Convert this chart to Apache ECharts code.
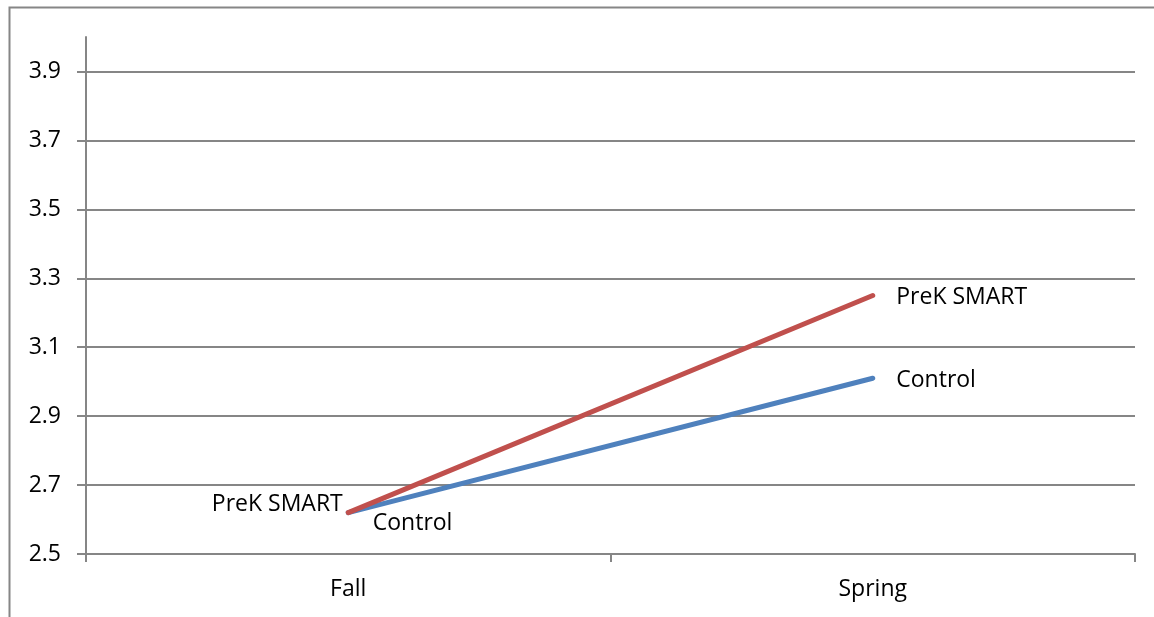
<!DOCTYPE html>
<html>
<head>
<meta charset="utf-8">
<script src="https://cdn.jsdelivr.net/npm/echarts@6/dist/echarts.min.js"></script>
<style>
    html, body { margin: 0; padding: 0; background: #fff; }
    #chart { width: 1154px; height: 617px; }
</style>
</head>
<body>
<div id="chart"></div>
<script>
const CATEGORIES = ["Fall", "Spring"];
const PREK_SMART = [2.62, 3.25];
const CONTROL = [2.62, 3.01];
const Y_TICKS = [2.5, 2.7, 2.9, 3.1, 3.3, 3.5, 3.7, 3.9];

const FONT = "Open Sans";
const FONT_SIZE = 23;
const GREY = "#868686";

const chart = echarts.init(document.getElementById("chart"));

// labels sit at the data points; fall label placement differs per series
function lineSeries(name, data, color, fallLabel) {
    return {
        name,
        type: "line",
        data: data.map((v, i) => ({
            value: v,
            label: i === 0 ? fallLabel : { position: "right", distance: 23, offset: [0, 2] },
        })),
        showSymbol: true,
        symbol: "circle",
        symbolSize: 1,
        lineStyle: { color, width: 5, cap: "round" },
        itemStyle: { color: "rgba(0,0,0,0)", borderWidth: 0 },
        label: {
            show: true,
            formatter: () => name,
            color: "#000",
            fontFamily: FONT,
            fontSize: FONT_SIZE,
        },
        emphasis: { disabled: true },
    };
}

chart.setOption({
    animation: false,
    backgroundColor: "#fff",
    textStyle: { fontFamily: FONT },
    graphic: [{
        type: "rect",
        left: 7,
        top: 5,
        shape: { width: 1300, height: 800 },
        style: { fill: "none", stroke: GREY, lineWidth: 2 },
        silent: true,
    }],
    grid: { left: 86, right: 19, top: 37, bottom: 63 },
    xAxis: {
        type: "category",
        data: CATEGORIES,
        boundaryGap: true,
        axisLine: { show: true, lineStyle: { color: GREY, width: 2 } },
        axisTick: { show: true, inside: false, length: 8, lineStyle: { color: GREY, width: 2 } },
        axisLabel: { color: "#000", fontFamily: FONT, fontSize: FONT_SIZE, margin: 24 },
    },
    yAxis: {
        type: "value",
        min: 2.5,
        max: 4.0,
        axisLine: { show: true, lineStyle: { color: GREY, width: 2 } },
        axisTick: { show: true, inside: false, length: 9, customValues: Y_TICKS, lineStyle: { color: GREY, width: 2 } },
        axisLabel: {
            customValues: Y_TICKS,
            color: "#000",
            fontFamily: FONT,
            fontSize: FONT_SIZE,
            margin: 25,
            formatter: (v) => v.toFixed(1),
        },
        splitLine: { show: true, lineStyle: { color: GREY, width: 2 } },
    },
    series: [
        lineSeries("Control", CONTROL, "#4F81BD", { position: "right", distance: 0, offset: [24, 11] }),
        lineSeries("PreK SMART", PREK_SMART, "#C0504D", { position: "left", distance: 5, offset: [0, -8] }),
    ],
});
</script>
</body>
</html>
